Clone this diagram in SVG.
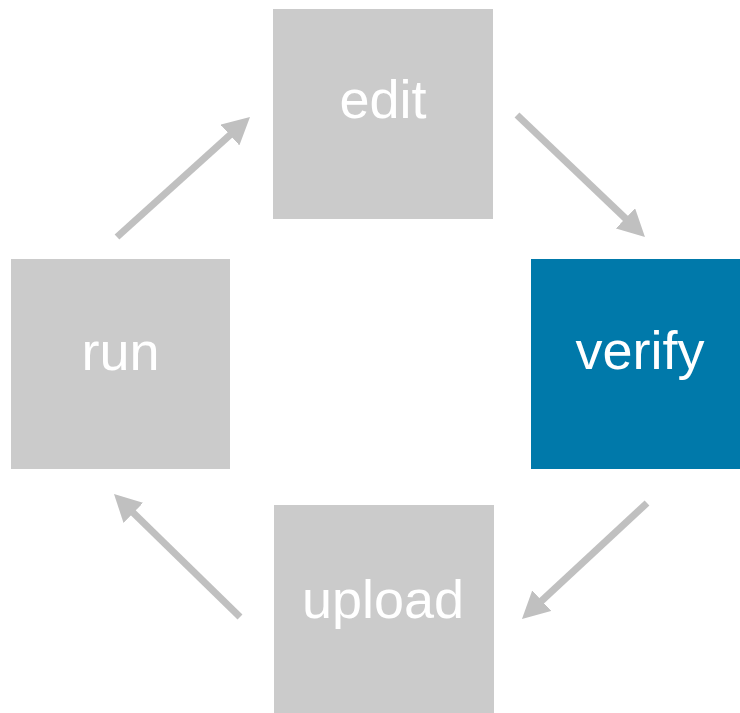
<svg xmlns="http://www.w3.org/2000/svg" width="740" height="713" viewBox="0 0 740 713">
  <style>
    .box { fill: #cbcbcb; }
    .box.active { fill: #0079aa; }
    .label { font-family: "Liberation Sans", Arial, Helvetica, sans-serif; font-size: 54px; fill: #ffffff; text-anchor: middle; }
    .flow { stroke: #c0c0c0; stroke-width: 7; fill: none; marker-end: url(#head); }
  </style>
  <defs>
    <marker id="head" viewBox="0 0 27 28" refX="8" refY="14" markerWidth="27" markerHeight="28" markerUnits="userSpaceOnUse" orient="auto">
      <path d="M0,0 L27,14 L0,28 z" fill="#c0c0c0"/>
    </marker>
  </defs>
  <rect width="740" height="713" fill="#ffffff"/>

  <g id="edit">
    <rect class="box" x="273" y="9" width="220" height="210"/>
    <text class="label" x="383" y="118">edit</text>
  </g>
  <g id="verify">
    <rect class="box active" x="531" y="259" width="220" height="210"/>
    <text class="label" x="640" y="369">verify</text>
  </g>
  <g id="upload">
    <rect class="box" x="274" y="505" width="220" height="210"/>
    <text class="label" x="383" y="618">upload</text>
  </g>
  <g id="run">
    <rect class="box" x="11" y="259" width="219" height="210"/>
    <text class="label" x="120.5" y="370">run</text>
  </g>

  <g id="connectors">
    <line class="flow" x1="117" y1="237" x2="235.9" y2="129.7"/>
    <line class="flow" x1="517" y1="115" x2="631.2" y2="223.9"/>
    <line class="flow" x1="647" y1="503" x2="535.9" y2="606.1"/>
    <line class="flow" x1="240" y1="617" x2="127.6" y2="507.3"/>
  </g>
</svg>
